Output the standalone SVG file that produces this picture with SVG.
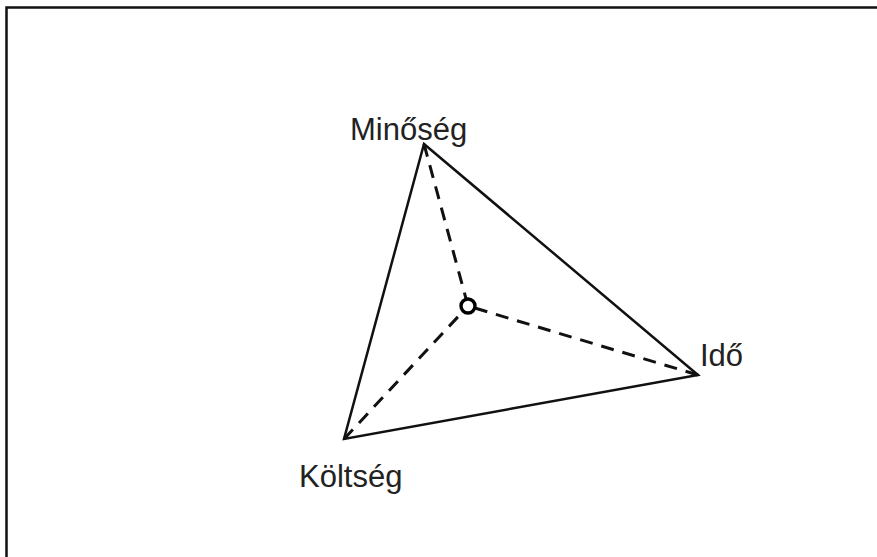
<svg xmlns="http://www.w3.org/2000/svg" width="877" height="557" viewBox="0 0 877 557">
<style>
.lbl{font-family:"Liberation Sans",Arial,sans-serif;font-size:31px;fill:#222}
.tri{fill:none;stroke:#111;stroke-width:2.5;stroke-linejoin:miter}
.dash{fill:none;stroke:#111;stroke-width:3;stroke-dasharray:13 9}
</style>
<rect width="877" height="557" fill="#fff"/>
<path d="M6.5,560 V7.5 H880" fill="none" stroke="#111" stroke-width="2.5"/>
<g id="connectors">
<polygon class="tri" points="424,144 698,375 344,439"/>
<line class="dash" x1="424" y1="144" x2="468" y2="306"/>
<line class="dash" x1="698" y1="375" x2="468" y2="306"/>
<line class="dash" x1="344" y1="439" x2="468" y2="306"/>
</g>
<g id="center"><circle cx="468" cy="306" r="7" fill="#fff" stroke="#000" stroke-width="3.4"/></g>
<g id="minoseg"><text class="lbl" x="350" y="140">Minőség</text></g>
<g id="ido"><text class="lbl" x="700" y="366">Idő</text></g>
<g id="koltseg"><text class="lbl" x="299" y="487">Költség</text></g>
</svg>
